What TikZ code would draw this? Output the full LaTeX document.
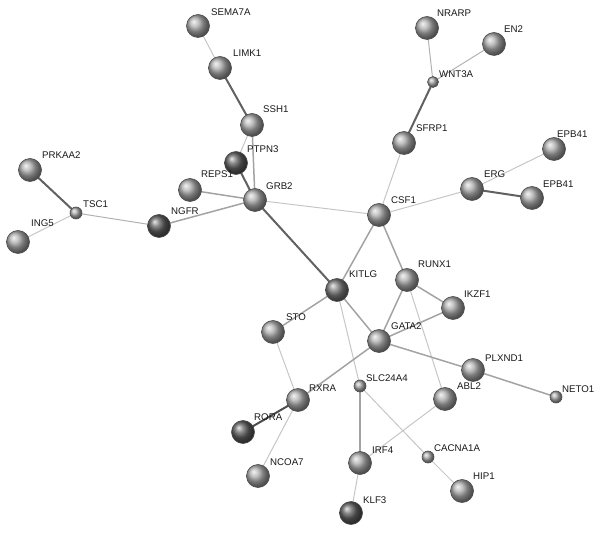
\documentclass[tikz,border=0pt]{standalone}
\usepackage{fontspec}
\setmainfont{Liberation Sans}
\pgfdeclarelayer{bg}
\pgfsetlayers{bg,main}
\begin{document}
\begin{tikzpicture}[x=1pt,y=-1pt,
  prot/.style={circle,inner sep=0pt,minimum size=23pt,draw=black!70,line width=0.6pt,shading=ball,ball color=gray!65},
  protd/.style={prot,ball color=gray!75!black},
  protm/.style={prot,ball color=gray!95!black},
  small/.style={prot,minimum size=12pt},
  lbl/.style={anchor=base west,inner sep=0pt,font=\fontsize{9.7}{10}\selectfont,text=black!90},
  le/.style={draw=gray!45,line width=1pt},
  me/.style={draw=gray!72,line width=1.5pt},
  de/.style={draw=black!62,line width=2pt}]
\useasboundingbox (0,0) rectangle (602,534);
% nodes
\node[prot] (SEMA7A) at (198,26) {};
\node[prot] (LIMK1) at (220,68) {};
\node[prot] (SSH1) at (252,125) {};
\node[protd] (PTPN3) at (236,163) {};
\node[prot] (REPS1) at (190,190) {};
\node[prot] (GRB2) at (255,200) {};
\node[prot] (PRKAA2) at (30,170) {};
\node[small] (TSC1) at (76,213) {};
\node[prot] (ING5) at (18,242) {};
\node[protd] (NGFR) at (159,226) {};
\node[prot] (NRARP) at (427,28) {};
\node[prot] (EN2) at (494,44) {};
\node[small,minimum size=11pt] (WNT3A) at (433,82) {};
\node[prot] (SFRP1) at (404,143) {};
\node[prot] (EPB41a) at (554,149) {};
\node[prot] (ERG) at (472,189) {};
\node[prot] (EPB41b) at (532,198) {};
\node[prot] (CSF1) at (379,215) {};
\node[prot] (RUNX1) at (407,280) {};
\node[protm] (KITLG) at (337,290) {};
\node[prot] (IKZF1) at (453,308) {};
\node[prot] (GATA2) at (379,341) {};
\node[prot] (PLXND1) at (473,370) {};
\node[small] (NETO1) at (556,397) {};
\node[prot] (ABL2) at (445,399) {};
\node[small] (SLC24A4) at (360,386) {};
\node[prot] (RXRA) at (298,400) {};
\node[prot] (STO) at (273,332) {};
\node[protd] (RORA) at (243,432) {};
\node[prot] (NCOA7) at (258,476) {};
\node[prot] (IRF4) at (360,463) {};
\node[small] (CACNA1A) at (428,457) {};
\node[prot] (HIP1) at (462,491) {};
\node[protd] (KLF3) at (351,513) {};
% edges
\begin{pgfonlayer}{bg}
\draw[le] (SEMA7A.center) -- (LIMK1.center);
\draw[de] (LIMK1.center) -- (SSH1.center);
\draw[le] (SSH1.center) -- (PTPN3.center);
\draw[me] (SSH1.center) -- (GRB2.center);
\draw[de] (PTPN3.center) -- (GRB2.center);
\draw[me] (REPS1.center) -- (GRB2.center);
\draw[me] (NGFR.center) -- (GRB2.center);
\draw[le] (GRB2.center) -- (CSF1.center);
\draw[de] (GRB2.center) -- (KITLG.center);
\draw[de] (PRKAA2.center) -- (TSC1.center);
\draw[le] (ING5.center) -- (TSC1.center);
\draw[le,draw=gray!60] (TSC1.center) -- (NGFR.center);
\draw[le,draw=gray!60] (NRARP.center) -- (WNT3A.center);
\draw[le,draw=gray!60] (EN2.center) -- (WNT3A.center);
\draw[de] (WNT3A.center) -- (SFRP1.center);
\draw[le] (SFRP1.center) -- (CSF1.center);
\draw[le] (CSF1.center) -- (ERG.center);
\draw[le] (ERG.center) -- (EPB41a.center);
\draw[de] (ERG.center) -- (EPB41b.center);
\draw[me] (CSF1.center) -- (KITLG.center);
\draw[me] (CSF1.center) -- (RUNX1.center);
\draw[me] (KITLG.center) -- (GATA2.center);
\draw[me] (KITLG.center) -- (STO.center);
\draw[le] (KITLG.center) -- (SLC24A4.center);
\draw[me] (RUNX1.center) -- (GATA2.center);
\draw[me] (RUNX1.center) -- (IKZF1.center);
\draw[me] (GATA2.center) -- (IKZF1.center);
\draw[le] (RUNX1.center) -- (ABL2.center);
\draw[me] (GATA2.center) -- (PLXND1.center);
\draw[me] (GATA2.center) -- (RXRA.center);
\draw[me] (PLXND1.center) -- (NETO1.center);
\draw[le] (STO.center) -- (RXRA.center);
\draw[de,draw=gray!60!black] (RXRA.center) -- (RORA.center);
\draw[le] (RXRA.center) -- (NCOA7.center);
\draw[me] (SLC24A4.center) -- (IRF4.center);
\draw[le] (SLC24A4.center) -- (CACNA1A.center);
\draw[le] (CACNA1A.center) -- (HIP1.center);
\draw[le] (ABL2.center) -- (IRF4.center);
\draw[le] (IRF4.center) -- (KLF3.center);
\end{pgfonlayer}
% labels
\node[lbl] (tSEMA7A) at (211,16) {SEMA7A};
\node[lbl] (tLIMK1) at (233,57) {LIMK1};
\node[lbl] (tSSH1) at (263,113) {SSH1};
\node[lbl] (tPTPN3) at (247,153) {PTPN3};
\node[lbl] (tREPS1) at (201,178) {REPS1};
\node[lbl] (tGRB2) at (266,190) {GRB2};
\node[lbl] (tPRKAA2) at (42,159) {PRKAA2};
\node[lbl] (tTSC1) at (83,208) {TSC1};
\node[lbl] (tING5) at (31,227) {ING5};
\node[lbl] (tNGFR) at (171,215) {NGFR};
\node[lbl] (tNRARP) at (437,17) {NRARP};
\node[lbl] (tEN2) at (504,33) {EN2};
\node[lbl] (tWNT3A) at (439,78) {WNT3A};
\node[lbl] (tSFRP1) at (416,132) {SFRP1};
\node[lbl] (tEPB41a) at (557,138) {EPB41};
\node[lbl] (tERG) at (484,178) {ERG};
\node[lbl] (tEPB41b) at (543,188) {EPB41};
\node[lbl] (tCSF1) at (391,204) {CSF1};
\node[lbl] (tRUNX1) at (418,268) {RUNX1};
\node[lbl] (tKITLG) at (349,278) {KITLG};
\node[lbl] (tIKZF1) at (464,298) {IKZF1};
\node[lbl] (tGATA2) at (391,330) {GATA2};
\node[lbl] (tPLXND1) at (485,361) {PLXND1};
\node[lbl] (tABL2) at (457,389) {ABL2};
\node[lbl] (tNETO1) at (562,392) {NETO1};
\node[lbl] (tSLC24A4) at (366,381) {SLC24A4};
\node[lbl] (tRXRA) at (309,391) {RXRA};
\node[lbl] (tIRF4) at (372,453) {IRF4};
\node[lbl] (tCACNA1A) at (434,451) {CACNA1A};
\node[lbl] (tHIP1) at (473,479) {HIP1};
\node[lbl] (tKLF3) at (363,503) {KLF3};
\node[lbl] (tSTO) at (286,321) {STO};
\node[lbl] (tRORA) at (254,420) {RORA};
\node[lbl] (tNCOA7) at (270,465) {NCOA7};
\end{tikzpicture}
\end{document}
